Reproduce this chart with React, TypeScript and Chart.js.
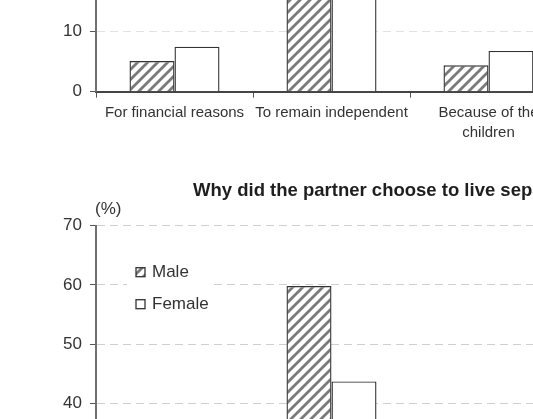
import React, { useEffect, useRef } from "react";
import { Chart, registerables } from "chart.js";
Chart.register(...registerables);

// ---- data ----
const categories: string[][] = [
  ["For financial reasons"],
  ["To remain independent"],
  ["Because of the", "children"],
  ["Other"],
];
const seriesNames = ["Male", "Female"];
const ownMale = [5.1, 55.0, 4.4, 3.0];
const ownFemale = [7.5, 50.0, 6.8, 4.0];
const partnerMale = [9.0, 59.8, 14.0, 6.0];
const partnerFemale = [12.0, 43.7, 19.0, 8.0];
const yMin = 0;
const yMax = 70;
const yStep = 10;
const partnerTitle = "Why did the partner choose to live separately?";
const unitLabel = "(%)";

const FONT = "'Liberation Sans', Arial, sans-serif";
Chart.defaults.font.family = FONT;

function makeHatch(): CanvasPattern {
  const s = 10;
  const c = document.createElement("canvas");
  c.width = s;
  c.height = s;
  const g = c.getContext("2d")!;
  g.fillStyle = "#ffffff";
  g.fillRect(0, 0, s, s);
  g.strokeStyle = "#7a7a7a";
  g.lineWidth = 2.8;
  g.beginPath();
  for (const k of [0, s, 2 * s]) {
    g.moveTo(-2, k + 2);
    g.lineTo(k + 2, -2);
  }
  g.stroke();
  return g.createPattern(c, "repeat")!;
}

const overlayPlugin = {
  id: "overlay",
  afterDraw(chart: any, _args: any, opts: any) {
    if (!opts || !opts.enabled) return;
    const { ctx, chartArea } = chart;
    ctx.save();
    // title
    ctx.font = `bold 18.5px ${FONT}`;
    ctx.fillStyle = "#1e1e1e";
    ctx.textBaseline = "middle";
    ctx.textAlign = "left";
    ctx.fillText(opts.title, chartArea.left + 97, chartArea.top - 34.5);
    // unit
    ctx.font = `17px ${FONT}`;
    ctx.fillStyle = "#333";
    ctx.fillText(opts.unit, chartArea.left - 1, chartArea.top - 16);
    // legend
    const x0 = chartArea.left + 40;
    const y0 = chartArea.top + 46.5;
    ctx.fillStyle = "#ffffff";
    ctx.fillRect(x0 - 9, y0 - 14, 87, 62);
    chart.data.datasets.forEach((ds: any, i: number) => {
      const y = y0 + i * 32;
      ctx.fillStyle = ds.backgroundColor;
      ctx.fillRect(x0, y - 4.5, 9, 9);
      ctx.strokeStyle = "#333";
      ctx.lineWidth = 1.3;
      ctx.strokeRect(x0, y - 4.5, 9, 9);
      ctx.fillStyle = "#333";
      ctx.fillText(ds.label, x0 + 16, y);
    });
    ctx.restore();
  },
};

function buildConfig(
  male: number[],
  female: number[],
  hatch: CanvasPattern,
  o: { title?: string; padTop: number; xHeight: number; gridColor: string; overlay: boolean }
): any {
  return {
    type: "bar",
    data: {
      labels: categories,
      datasets: [
        {
          label: seriesNames[0],
          data: male,
          backgroundColor: hatch,
          borderColor: "#333",
          borderWidth: 1.4,
          barPercentage: 1,
          categoryPercentage: 90 / 157,
        },
        {
          label: seriesNames[1],
          data: female,
          backgroundColor: "#ffffff",
          borderColor: "#333",
          borderWidth: 1.4,
          barPercentage: 1,
          categoryPercentage: 90 / 157,
        },
      ],
    },
    plugins: [overlayPlugin],
    options: {
      animation: false,
      responsive: false,
      devicePixelRatio: 1,
      layout: { padding: { top: o.padTop, right: 16, bottom: 0, left: 0 } },
      plugins: {
        legend: { display: false },
        tooltip: { enabled: false },
        title: { display: false },
        overlay: { enabled: o.overlay, unit: unitLabel, title: o.title || "" },
      },
      scales: {
        x: {
          grid: {
            display: true,
            drawOnChartArea: false,
            tickLength: 6,
            tickColor: "#555",
            offset: true,
          },
          border: { display: true, color: "#444", width: 2 },
          ticks: {
            color: "#333",
            font: { size: 15, lineHeight: 1.333, family: FONT },
            padding: 5.5,
            maxRotation: 0,
            minRotation: 0,
            autoSkip: false,
          },
          afterFit: (s: any) => {
            s.height = o.xHeight;
          },
        },
        y: {
          min: yMin,
          max: yMax,
          ticks: {
            stepSize: yStep,
            color: "#333",
            font: { size: 17, family: FONT },
            padding: 8,
          },
          grid: {
            color: o.gridColor,
            lineWidth: 1,
            tickColor: "#555",
            tickLength: 6,
            tickBorderDash: [],
          },
          border: { display: true, color: "#707070", width: 2, dash: [8, 5] },
          afterFit: (s: any) => {
            s.width = 96;
          },
        },
      },
    },
  };
}

export default function App() {
  const topRef = useRef<HTMLCanvasElement>(null);
  const botRef = useRef<HTMLCanvasElement>(null);
  useEffect(() => {
    const hatch = makeHatch();
    const c1 = new Chart(
      topRef.current!,
      buildConfig(ownMale, ownFemale, hatch, {
        padTop: 21.7,
        xHeight: 58.3,
        gridColor: "#e2e2e2",
        overlay: false,
      })
    );
    const c2 = new Chart(
      botRef.current!,
      buildConfig(partnerMale, partnerFemale, hatch, {
        title: partnerTitle,
        padTop: 55.7,
        xHeight: 59.9,
        gridColor: "#cfcfcf",
        overlay: true,
      })
    );
    return () => {
      c1.destroy();
      c2.destroy();
    };
  }, []);
  return (
    <div
      style={{
        position: "fixed",
        left: 0,
        top: 0,
        width: 533,
        height: 419,
        overflow: "hidden",
        background: "#ffffff",
      }}
    >
      <canvas ref={topRef} width={740} height={500} style={{ position: "absolute", left: 0, top: -350 }} />
      <canvas ref={botRef} width={740} height={530} style={{ position: "absolute", left: 0, top: 170 }} />
    </div>
  );
}
